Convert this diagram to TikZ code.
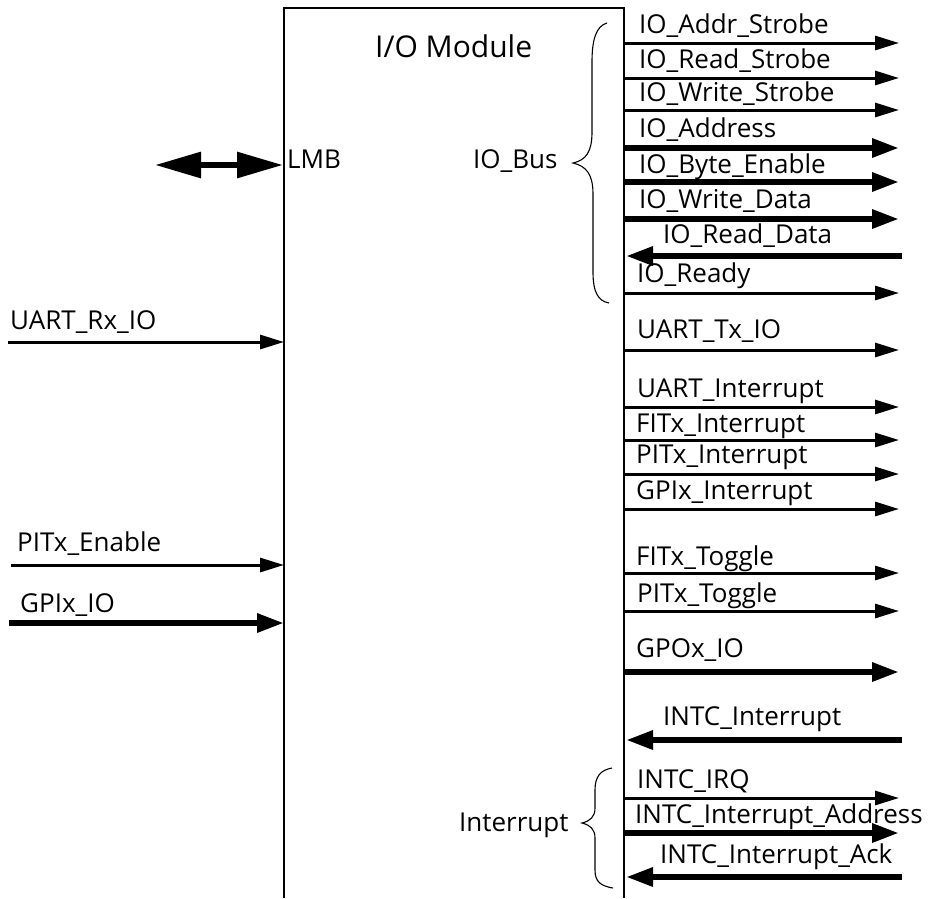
\documentclass[tikz,border=0pt]{standalone}
\usepackage{fontspec}
\setmainfont{Open Sans}
\usetikzlibrary{arrows.meta}
\begin{document}
\begin{tikzpicture}[x=1pt,y=-1pt,
  sig/.style={line width=3pt,-{Triangle[length=24pt,width=14pt]}},
  bus/.style={line width=6pt,-{Triangle[length=27pt,width=18pt]}},
  lbl/.style={anchor=base west,inner sep=0pt,font=\fontsize{26}{30}\selectfont},
  brc/.style={line width=1.1pt},
  frame/.style={line width=2.6pt}]
\useasboundingbox (0,0) rectangle (932,898);
% module frame
\coordinate (bl) at (284,898);
\coordinate (tl) at (284,8);
\coordinate (tr) at (624,8);
\coordinate (br) at (624,898);
\draw[frame] (bl) -- (tl) -- (tr) -- (br);
\node[anchor=base west,inner sep=0pt,font=\fontsize{30}{35}\selectfont] (title) at (375,57) {I/O Module};
% LMB
\coordinate (lmbA) at (155,165);
\coordinate (lmbB) at (283,165);
\draw[line width=6pt,{Triangle[length=46pt,width=25pt]}-{Triangle[length=46pt,width=25pt]}] (lmbA) -- (lmbB);
\node[lbl] (lmb) at (287,168) {LMB};
% bus label and brace
\node[lbl] (iobus) at (473,168) {IO\_Bus};
\coordinate (bt) at (607,23);
\coordinate (btip) at (573,163);
\coordinate (bb) at (609,303);
\draw[brc] (bt) .. controls (596,26) and (592,40) .. (592,62) -- (592,132)
  .. controls (592,152) and (586,160) .. (btip)
  .. controls (586,166) and (593,174) .. (593,194) -- (593,272)
  .. controls (593,292) and (598,301) .. (bb);
% interrupt label and brace
\node[lbl] (intlab) at (459,831) {Interrupt};
\coordinate (it) at (612,768);
\coordinate (itip) at (582,823);
\coordinate (ib) at (613,888);
\draw[brc] (it) .. controls (601,770) and (595,776) .. (595,790) -- (595,808)
  .. controls (595,817) and (590,821) .. (itip)
  .. controls (590,825) and (595,829) .. (595,838) -- (595,870)
  .. controls (595,882) and (601,886) .. (ib);
% left inputs
\foreach \y/\st/\x/\lab/\lx/\bl [count=\i] in {
  342/sig/8/UART\_Rx\_IO/10/329,
  565/sig/11/PITx\_Enable/17/551,
  623/bus/9/GPIx\_IO/20/612}{
  \coordinate (li\i s) at (\x,\y);
  \coordinate (li\i e) at (284,\y);
  \draw[\st] (li\i s) -- (li\i e);
  \node[lbl] (lil\i) at (\lx,\bl) {\lab};
}
% right outputs
\foreach \y/\st/\lab/\lx/\bl [count=\i] in {
  43/sig/IO\_Addr\_Strobe/639/33,
  78/sig/IO\_Read\_Strobe/639/68,
  110/sig/IO\_Write\_Strobe/639/101,
  148/bus/IO\_Address/639/137,
  182/bus/IO\_Byte\_Enable/639/173,
  219/bus/IO\_Write\_Data/639/208,
  293/sig/IO\_Ready/637/282,
  350/sig/UART\_Tx\_IO/637/338,
  407/sig/UART\_Interrupt/637/397,
  440/sig/FITx\_Interrupt/636/432,
  474/sig/PITx\_Interrupt/636/463,
  509/sig/GPIx\_Interrupt/636/499,
  573/sig/FITx\_Toggle/636/565,
  611/sig/PITx\_Toggle/637/602,
  672/bus/GPOx\_IO/636/657,
  798/sig/INTC\_IRQ/637/788,
  833/bus/INTC\_Interrupt\_Address/635/823}{
  \coordinate (ro\i s) at (624,\y);
  \coordinate (ro\i e) at (899,\y);
  \draw[\st] (ro\i s) -- (ro\i e);
  \node[lbl] (rol\i) at (\lx,\bl) {\lab};
}
% right inputs
\foreach \y/\st/\lab/\lx/\bl [count=\i] in {
  256/bus/IO\_Read\_Data/663/243,
  740/bus/INTC\_Interrupt/663/725,
  877/bus/INTC\_Interrupt\_Ack/660/863}{
  \coordinate (ri\i s) at (902,\y);
  \coordinate (ri\i e) at (626,\y);
  \draw[\st] (ri\i s) -- (ri\i e);
  \node[lbl] (ril\i) at (\lx,\bl) {\lab};
}
\end{tikzpicture}
\end{document}
